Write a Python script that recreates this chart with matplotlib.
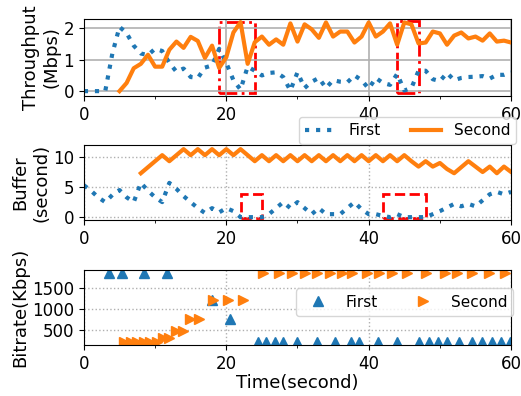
import numpy as np
import matplotlib.pyplot as plt
from matplotlib.patches import Rectangle
from matplotlib.ticker import MultipleLocator

# throughput (Mbps), one sample per second
t_first = np.arange(0, 61)
thr_first = [0, 0, 0, 0, 1.2, 2.05, 1.85, 1.45, 1.2, 1.15,
             1.35, 1.28, 0.9, 0.62, 0.72, 0.45, 0.42, 0.75, 0.82, 1.35,
             0.9, 0.35, 0.05, 0.78, 0.65, 0.5, 0.58, 0.6, 0.45, 0.02,
             0.6, 0.1, 0.3, 0.42, 0.1, 0.35, 0.3, 0.28, 0.5, 0.35,
             0.08, 0.42, 0.26, 0.2, 0.55, 0.02, 0.1, 0.65, 0.65, 0.38,
             0.32, 0.58, 0.35, 0.42, 0.45, 0.46, 0.48, 0.4, 0.52, 0.52,
             0.6]
t_second = np.arange(5, 61)
thr_second = [0, 0.26, 0.73, 0.87, 1.16, 0.78, 0.78, 1.32, 1.58, 1.38,
              1.73, 1.6, 1.06, 1.45, 0.74, 1.08, 1.87, 2.2, 0.87, 1.56,
              1.74, 1.48, 1.65, 1.48, 2.16, 1.58, 2.13, 1.97, 1.7, 2.19,
              1.74, 1.9, 1.9, 1.55, 1.74, 2.19, 1.74, 1.9, 2.16, 1.48,
              2.19, 2.13, 1.52, 1.55, 1.9, 1.84, 1.48, 1.77, 1.87, 1.68,
              1.74, 1.61, 1.84, 1.58, 1.61, 1.55]

# buffer (second)
buf_first = [5.3, 4.4, 3.3, 2.5, 3.7, 4.5, 3.3, 2.5, 5.7, 4.4,
             3.3, 2.5, 5.7, 4.7, 3.5, 2.5, 1.5, 0.7, 1.5, 0.8,
             1.5, 1.0, 0, 0, 0, 0, 0.5, 1.5, 2.5, 1.5,
             2.5, 1.5, 0.5, 1.5, 0.5, 0.5, 0.5, 1.5, 2.5, 1.3,
             0.5, 0.5, 0.2, 0, 0.5, 0, 0, 0, 0, 0.5,
             1.0, 1.6, 2.2, 1.8, 2.2, 1.8, 2.8, 3.8, 4.2, 3.8,
             4.2]
t_buf_second = np.arange(8, 61)
buf_second = [7.3, 8.3, 9.3, 10.3, 9.3, 10.3, 11.3, 10.3, 11.3, 10.3,
              11.3, 10.3, 11.3, 10.3, 11.3, 10.3, 9.3, 10.3, 9.3, 10.3,
              9.3, 10.3, 9.3, 10.3, 9.3, 10.3, 9.3, 10.3, 9.3, 10.3,
              9.3, 10.3, 9.3, 10.3, 9.3, 10.3, 9.3, 10.3, 9.3, 8.4,
              9.3, 8.4, 9.0, 8.0, 7.3, 8.3, 9.3, 8.4, 7.5, 8.4,
              7.3, 8.4, 7.5]

# bitrate (Kbps) of each downloaded segment
seg_t_first = [3.5, 5.3, 8.4, 11.7, 18, 20.5, 24.4, 25.6, 26.8, 28,
               29.9, 32.7, 35.3, 37.5, 38.6, 41.3, 44, 47, 48.5, 49.8,
               51, 52.7, 54.5, 55.9, 57.3, 58.6, 59.8]
rate_first = [1850, 1850, 1850, 1850, 1200, 750, 200, 200, 200, 200,
              200, 200, 200, 200, 200, 200, 200, 200, 200, 200,
              200, 200, 200, 200, 200, 200, 200]
seg_t_second = [5.6, 6.6, 7.5, 8.4, 9.3, 10.2, 11.1, 12.0, 13.0, 13.9,
                14.9, 16.2, 18.1, 20.2, 22.4, 25.2, 27.4, 29.2, 31, 32.7,
                34.6, 36.3, 37.6, 39.8, 41.5, 43.3, 45.4, 48, 50.7, 52.4,
                54.5, 56.9, 59.2]
rate_second = [200, 200, 200, 200, 200, 200, 310, 310, 480, 480,
               750, 750, 1200, 1200, 1200, 1850, 1850, 1850, 1850, 1850,
               1850, 1850, 1850, 1850, 1850, 1850, 1850, 1850, 1850, 1850,
               1850, 1850, 1850]

blue = '#1f77b4'
orange = '#ff7f0e'
fs = 11
fs_lab = 13

fig = plt.figure(figsize=(5.21, 3.96), dpi=100)
ax1 = fig.add_axes([0.161, 0.758, 0.820, 0.194])
ax2 = fig.add_axes([0.161, 0.444, 0.820, 0.190])
ax3 = fig.add_axes([0.161, 0.129, 0.820, 0.190])

# throughput
ax1.plot(t_first, thr_first, ':', color=blue, lw=3, label='First')
ax1.plot(t_second, thr_second, '-', color=orange, lw=3, label='Second')
ax1.set_ylim(-0.15, 2.3)
ax1.set_yticks([0, 1, 2])
ax1.grid(True, color='#b0b0b0', lw=1.2)
ax1.set_ylabel('Throughput\n(Mbps)', fontsize=fs_lab, labelpad=2)
ax1.add_patch(Rectangle((19, -0.05), 5, 2.25, fill=False, ec='red', ls='-.', lw=2))
ax1.add_patch(Rectangle((44, -0.05), 3, 2.3, fill=False, ec='red', ls='-.', lw=2))

# buffer
ax2.plot(t_first, buf_first, ':', color=blue, lw=3, label='First')
ax2.plot(t_buf_second, buf_second, '-', color=orange, lw=3, label='Second')
ax2.set_ylim(-0.5, 12)
ax2.set_yticks([0, 5, 10])
ax2.grid(True, ls=':', color='#b0b0b0', lw=1)
ax2.set_ylabel('Buffer\n(second)', fontsize=fs_lab, labelpad=2)
ax2.add_patch(Rectangle((22, -0.2), 3, 4.0, fill=False, ec='red', ls='--', lw=2))
ax2.add_patch(Rectangle((42, -0.2), 6, 4.0, fill=False, ec='red', ls='--', lw=2))
ax2.legend(ncol=2, loc='lower right', bbox_to_anchor=(1.012, 1.01), borderaxespad=0,
           fontsize=fs)

# bitrate
ax3.plot(seg_t_first, rate_first, '^', color=blue, ms=7, ls='none', label='First')
ax3.plot(seg_t_second, rate_second, '>', color=orange, ms=7, ls='none', label='Second')
ax3.set_ylim(140, 1930)
ax3.set_yticks([500, 1000, 1500])
ax3.grid(True, ls=':', color='#b0b0b0', lw=1)
ax3.set_ylabel('Bitrate(Kbps)', fontsize=fs_lab, labelpad=2)
ax3.set_xlabel('Time(second)', fontsize=fs_lab, labelpad=1)
ax3.legend(ncol=2, loc='upper right', bbox_to_anchor=(1.005, 0.75), borderaxespad=0,
           fontsize=fs)

for ax in (ax1, ax2, ax3):
    ax.set_xlim(0, 60)
    ax.xaxis.set_major_locator(MultipleLocator(20))
    ax.xaxis.set_minor_locator(MultipleLocator(10))
    ax.tick_params(labelsize=fs + 1)

fig.savefig('out.png', dpi=100)
